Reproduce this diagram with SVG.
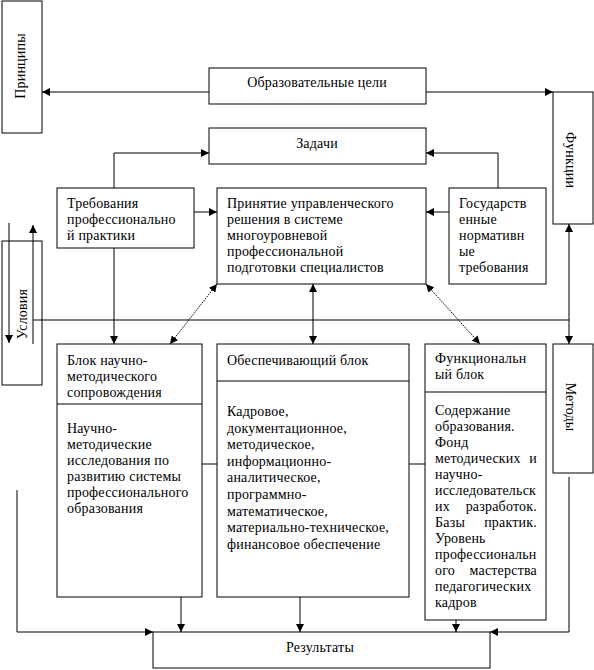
<svg xmlns="http://www.w3.org/2000/svg" width="594" height="670" viewBox="0 0 594 670">
<defs>
<marker id="ah" viewBox="0 0 8 8" refX="8" refY="4" markerWidth="8" markerHeight="8" markerUnits="userSpaceOnUse" orient="auto-start-reverse">
<path d="M0,0 L8,4 L0,8 Z" fill="#000"/>
</marker>
<style>
.b{fill:#fff;stroke:#000;stroke-width:1}
.n{fill:none;stroke:#000;stroke-width:1}
.l{fill:none;stroke:#000;stroke-width:1}
.d{fill:none;stroke:#000;stroke-width:1;stroke-dasharray:1.5,1}
text{font-family:"Liberation Serif","Times New Roman",serif;font-size:14px;letter-spacing:0.2px;fill:#000}
.m{text-anchor:middle}
.e{text-anchor:end}
</style>
</defs>
<rect width="594" height="670" fill="#fff"/>
<g id="connectors">
<path class="l" d="M209,92 H42" marker-end="url(#ah)"/>
<path class="l" d="M426,92 H553" marker-end="url(#ah)"/>
<path class="l" d="M114,188 V153 H209" marker-end="url(#ah)"/>
<path class="l" d="M498,188 V153 H426" marker-end="url(#ah)"/>
<path class="l" d="M194,212 H217" marker-end="url(#ah)"/>
<path class="l" d="M449,212 H426" marker-end="url(#ah)"/>
<path class="l" d="M569,224 V344" marker-start="url(#ah)" marker-end="url(#ah)"/>
<path class="l" d="M33,320 H569"/>
<path class="l" d="M9,223 V343" marker-end="url(#ah)"/>
<path class="l" d="M33,344 V225" marker-end="url(#ah)"/>
<path class="l" d="M114,248 V344" marker-end="url(#ah)"/>
<path class="d" d="M217,284 L170,344" marker-start="url(#ah)" marker-end="url(#ah)"/>
<path class="l" d="M313,284 V344" marker-start="url(#ah)" marker-end="url(#ah)"/>
<path class="d" d="M426,284 L480,344" marker-start="url(#ah)" marker-end="url(#ah)"/>
<path class="l" d="M202,464 H217"/>
<path class="l" d="M409,464 H425"/>
<path class="l" d="M17,490 V632 H153" marker-end="url(#ah)"/>
<path class="l" d="M181,597 V632" marker-end="url(#ah)"/>
<path class="l" d="M300,597 V632" marker-end="url(#ah)"/>
<path class="l" d="M456,620 V632" marker-end="url(#ah)"/>
<path class="l" d="M569,477 V632 H490" marker-end="url(#ah)"/>
</g>
<g id="principles">
<rect class="b" x="2" y="1" width="40" height="132"/>
<text class="m" transform="translate(25,66) rotate(-90)">Принципы</text>
</g>
<g id="goals">
<rect class="b" x="209" y="68" width="217" height="36"/>
<text class="m" x="317" y="87">Образовательные цели</text>
</g>
<g id="functions">
<rect class="b" x="553" y="92" width="40" height="132"/>
<text class="m" transform="translate(566,160) rotate(90)">Функции</text>
</g>
<g id="tasks">
<rect class="b" x="209" y="128" width="217" height="36"/>
<text class="m" x="317" y="148">Задачи</text>
</g>
<g id="requirements">
<rect class="b" x="57" y="188" width="137" height="60"/>
<text x="67" y="208">Требования</text>
<text x="67" y="224">профессионально</text>
<text x="67" y="240">й практики</text>
</g>
<g id="decision">
<rect class="b" x="217" y="188" width="209" height="96"/>
<text x="227" y="208">Принятие управленческого</text>
<text x="227" y="224">решения в системе</text>
<text x="227" y="240">многоуровневой</text>
<text x="227" y="256">профессиональной</text>
<text x="227" y="272">подготовки специалистов</text>
</g>
<g id="state">
<rect class="b" x="449" y="188" width="97" height="96"/>
<text x="459" y="208">Государств</text>
<text x="459" y="224">енные</text>
<text x="459" y="240">нормативн</text>
<text x="459" y="256">ые</text>
<text x="459" y="272">требования</text>
</g>
<g id="conditions">
<rect class="n" x="2" y="241" width="40" height="144"/>
<text class="m" transform="translate(27,314) rotate(-90)">Условия</text>
</g>
<g id="sci-block">
<rect class="b" x="57" y="344" width="145" height="253"/>
<path class="l" d="M57,404 H202"/>
<text x="67" y="365">Блок научно-</text>
<text x="67" y="381">методического</text>
<text x="67" y="397">сопровождения</text>
<text x="67" y="433">Научно-</text>
<text x="67" y="449">методические</text>
<text x="67" y="465">исследования по</text>
<text x="67" y="481">развитию системы</text>
<text x="67" y="497">профессионального</text>
<text x="67" y="513">образования</text>
</g>
<g id="support-block">
<rect class="b" x="217" y="344" width="192" height="253"/>
<path class="l" d="M217,381 H409"/>
<text x="227" y="365">Обеспечивающий блок</text>
<text x="227" y="416">Кадровое,</text>
<text x="227" y="432.6">документационное,</text>
<text x="227" y="449.2">методическое,</text>
<text x="227" y="465.8">информационно-</text>
<text x="227" y="482.4">аналитическое,</text>
<text x="227" y="499">программно-</text>
<text x="227" y="515.6">математическое,</text>
<text x="227" y="532.2">материально-техническое,</text>
<text x="227" y="548.8">финансовое обеспечение</text>
</g>
<g id="func-block">
<rect class="b" x="425" y="344" width="121" height="276"/>
<path class="l" d="M425,392 H546"/>
<text x="435" y="363">Функциональн</text>
<text x="435" y="379">ый блок</text>
<text x="435" y="415">Содержание</text>
<text x="435" y="431">образования.</text>
<text x="435" y="447">Фонд</text>
<text x="435" y="463">методических</text><text class="e" x="537" y="463">и</text>
<text x="435" y="479">научно-</text>
<text x="435" y="495">исследовательск</text>
<text x="435" y="511">их</text><text class="e" x="537" y="511">разработок.</text>
<text x="435" y="527">Базы</text><text class="e" x="537" y="527">практик.</text>
<text x="435" y="543">Уровень</text>
<text x="435" y="559">профессиональн</text>
<text x="435" y="575">ого</text><text class="e" x="537" y="575">мастерства</text>
<text x="435" y="591">педагогических</text>
<text x="435" y="607">кадров</text>
</g>
<g id="methods">
<rect class="b" x="553" y="344" width="40" height="129"/>
<text class="m" transform="translate(566,407) rotate(90)">Методы</text>
</g>
<g id="results">
<rect class="b" x="153" y="632" width="337" height="36"/>
<text class="m" x="320" y="652">Результаты</text>
</g>
</svg>
